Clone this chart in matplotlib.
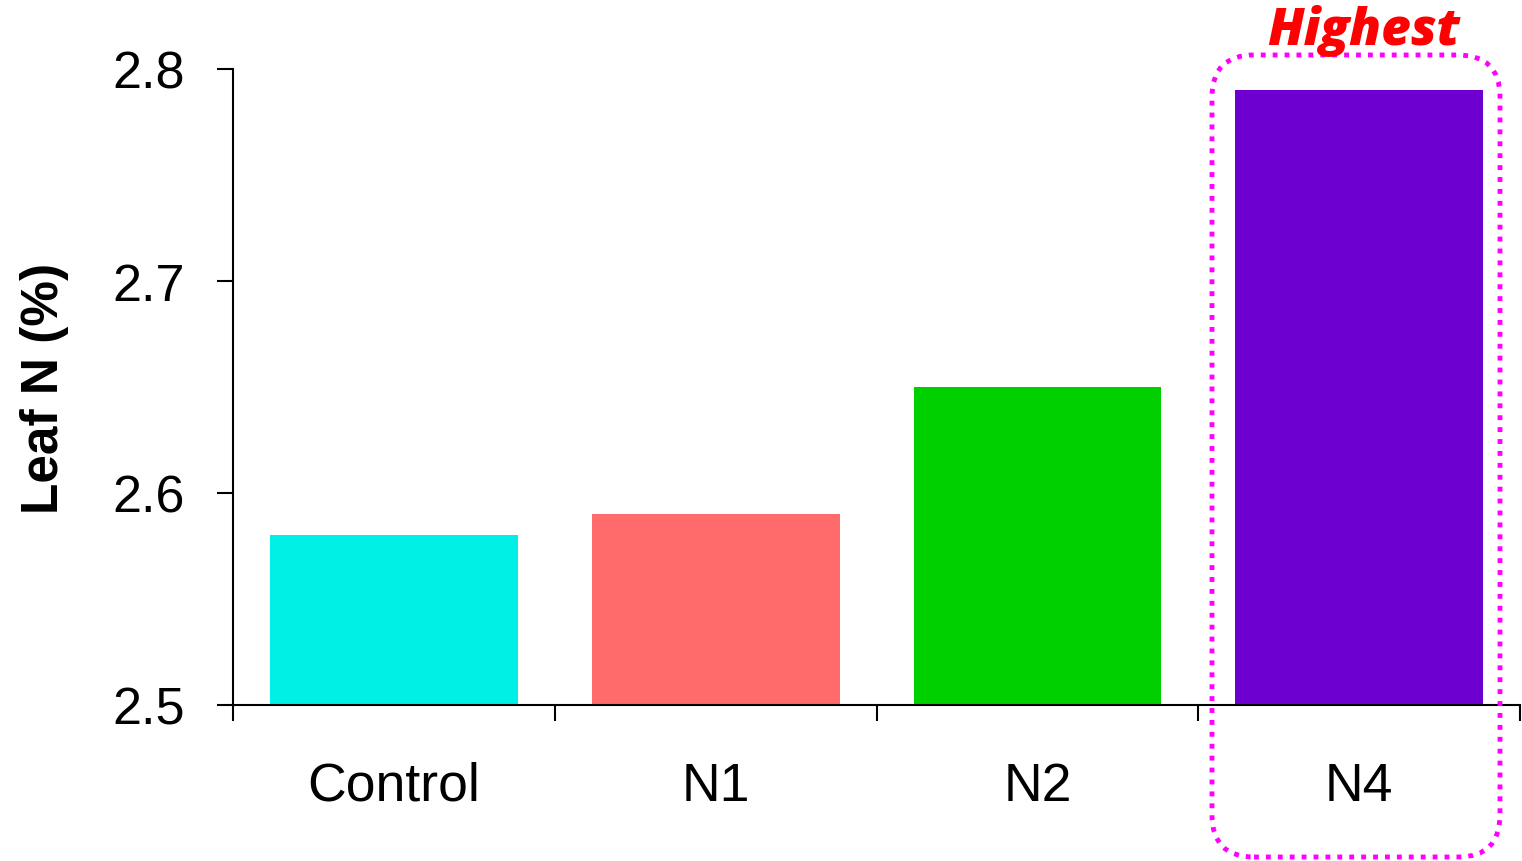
import matplotlib
matplotlib.use("Agg")
import matplotlib.pyplot as plt
from matplotlib.patches import FancyBboxPatch

# Leaf nitrogen content by treatment
categories = ["Control", "N1", "N2", "N4"]
leaf_n = [2.58, 2.59, 2.65, 2.79]
bar_colors = ["#00F0E6", "#FF6B6B", "#00D000", "#6D00D0"]
y_ticks = [2.5, 2.6, 2.7, 2.8]
y_tick_labels = ["2.5", "2.6", "2.7", "2.8"]
highlight_text = "Highest"

plt.rcParams["font.family"] = ["Liberation Sans", "DejaVu Sans"]

fig = plt.figure(figsize=(15.22, 8.62), dpi=100)
ax = fig.add_axes([0.1531, 0.1810, 0.8456, 0.7378])

x = list(range(len(categories)))
ax.bar(x, leaf_n, width=0.77, color=bar_colors, zorder=2)

ax.set_xlim(-0.5, len(categories) - 0.5)
ax.set_ylim(2.5, 2.8)

ax.spines["top"].set_visible(False)
ax.spines["right"].set_visible(False)
for s in ("left", "bottom"):
    ax.spines[s].set_linewidth(1.5)
    ax.spines[s].set_zorder(3)

ax.set_yticks(y_ticks)
ax.set_yticklabels(y_tick_labels)
ax.tick_params(axis="y", direction="out", length=11.5, width=1.5,
               pad=23, labelsize=37.5)

ax.set_xticks(x)
ax.set_xticklabels(categories)
ax.set_xticks([i - 0.5 for i in range(len(categories) + 1)], minor=True)
ax.tick_params(axis="x", which="major", length=0, pad=40, labelsize=38.5)
ax.tick_params(axis="x", which="minor", direction="out", length=11.5, width=1.5)

ax.set_ylabel("Leaf N (%)", fontsize=37, fontweight="bold", labelpad=31)

# Dotted rounded frame around the top treatment (figure inches)
frame = FancyBboxPatch((12.12, 0.04), 2.88, 8.02,
                       boxstyle="round,pad=0,rounding_size=0.42",
                       transform=fig.dpi_scale_trans, fill=False,
                       edgecolor="#FF00FF", linewidth=3.5,
                       linestyle=(0, (1.0, 1.45)), clip_on=False)
frame.set_capstyle("butt")
fig.add_artist(frame)

fig.text(13.64 / 15.22, 1 - 31 / 862, highlight_text, color="#FF0000",
         fontsize=37, fontweight="heavy", fontstyle="italic",
         family=["Open Sans", "Lato", "DejaVu Sans"],
         ha="center", va="center")

fig.savefig("out.png", dpi=100)
